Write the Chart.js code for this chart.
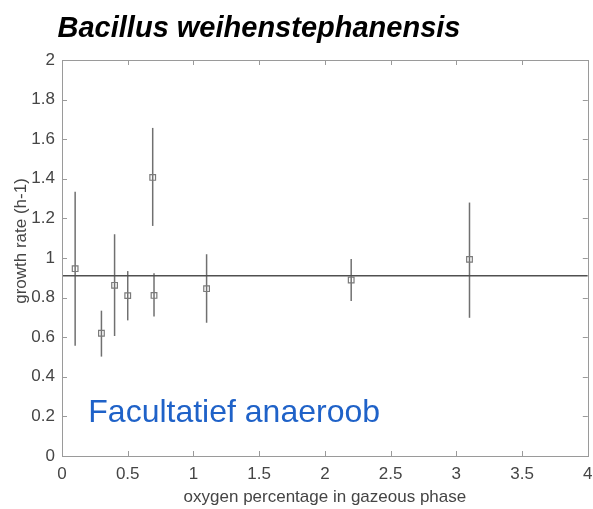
<!DOCTYPE html>
<html>
<head>
<meta charset="utf-8">
<script src="https://cdn.jsdelivr.net/npm/chart.js@4"></script>
<style>
  html, body { margin: 0; padding: 0; background: #fff; }
  #growthChart { display: block; }
</style>
</head>
<body>
<canvas id="growthChart" width="593" height="509"></canvas>
<script>
const oxygen = [0.1, 0.3, 0.4, 0.5, 0.69, 0.7, 1.1, 2.2, 3.1];
const growth = [0.946, 0.62, 0.862, 0.81, 1.407, 0.811, 0.845, 0.889, 0.993];
const errLow = [0.557, 0.502, 0.606, 0.685, 1.162, 0.704, 0.673, 0.783, 0.698];
const errHigh = [1.335, 0.734, 1.12, 0.934, 1.657, 0.923, 1.019, 0.995, 1.28];
const fitRate = 0.91;
const xRange = [0, 4];
const yRange = [0, 2];

const titleText = 'Bacillus weihenstephanensis';
const noteText = 'Facultatief anaeroob';
const xTitle = 'oxygen percentage in gazeous phase';
const yTitle = 'growth rate (h-1)';

Chart.defaults.font.family = '"Liberation Sans", Arial, sans-serif';

const axisColor = '#9a9a9a';
const textColor = '#454545';

// box, inward ticks, error bars and the text bits (matlab look)
const figurePlugin = {
    id: 'figure',
    beforeDatasetsDraw(chart) {
        const ctx = chart.ctx;
        const xs = chart.scales.x;
        const ys = chart.scales.y;
        ctx.save();
        ctx.strokeStyle = '#707070';
        ctx.lineWidth = 1.5;
        for (let i = 0; i < oxygen.length; i++) {
            const px = xs.getPixelForValue(oxygen[i]);
            ctx.beginPath();
            ctx.moveTo(px, ys.getPixelForValue(errLow[i]));
            ctx.lineTo(px, ys.getPixelForValue(errHigh[i]));
            ctx.stroke();
        }
        ctx.restore();
    },
    afterDraw(chart) {
        const ctx = chart.ctx;
        const a = chart.chartArea;
        const xs = chart.scales.x;
        const ys = chart.scales.y;
        ctx.save();
        ctx.strokeStyle = axisColor;
        ctx.lineWidth = 1;
        ctx.strokeRect(Math.round(a.left) + 0.5, Math.round(a.top) + 0.5,
            Math.round(a.right - a.left), Math.round(a.bottom - a.top));
        const tl = 5;
        ctx.beginPath();
        xs.ticks.forEach(t => {
            const px = Math.round(xs.getPixelForValue(t.value)) + 0.5;
            ctx.moveTo(px, a.bottom); ctx.lineTo(px, a.bottom - tl);
            ctx.moveTo(px, a.top); ctx.lineTo(px, a.top + tl);
        });
        ys.ticks.forEach(t => {
            const py = Math.round(ys.getPixelForValue(t.value)) + 0.5;
            ctx.moveTo(a.left, py); ctx.lineTo(a.left + tl, py);
            ctx.moveTo(a.right, py); ctx.lineTo(a.right - tl, py);
        });
        ctx.stroke();

        // title
        ctx.fillStyle = '#000';
        ctx.font = 'italic bold 29px "Liberation Sans", Arial, sans-serif';
        ctx.textAlign = 'center';
        ctx.textBaseline = 'alphabetic';
        ctx.fillText(titleText, 259, 37);

        // axis titles
        ctx.fillStyle = textColor;
        ctx.font = '17px "Liberation Sans", Arial, sans-serif';
        ctx.textBaseline = 'middle';
        ctx.fillText(xTitle, (a.left + a.right) / 2, 497);
        ctx.save();
        ctx.translate(21, 241);
        ctx.rotate(-Math.PI / 2);
        ctx.fillText(yTitle, 0, 0);
        ctx.restore();

        // annotation
        ctx.fillStyle = '#1f62c8';
        ctx.font = '32px "Liberation Sans", Arial, sans-serif';
        ctx.textAlign = 'left';
        ctx.textBaseline = 'alphabetic';
        ctx.fillText(noteText, xs.getPixelForValue(0.2), ys.getPixelForValue(0.17));
        ctx.restore();
    }
};

const fmt = v => String(parseFloat(Number(v).toFixed(1)));

const ctx = document.getElementById('growthChart').getContext('2d');
const growthChart = new Chart(ctx, {
    data: {
        datasets: [{
            type: 'line',
            data: [{ x: xRange[0], y: fitRate }, { x: xRange[1], y: fitRate }],
            borderColor: '#505050',
            borderWidth: 1.5,
            pointRadius: 0,
            order: 2
        }, {
            type: 'scatter',
            data: oxygen.map((x, i) => ({ x: x, y: growth[i] })),
            pointStyle: 'rect',
            pointRadius: 4,
            borderColor: '#7a7a7a',
            borderWidth: 1.2,
            backgroundColor: 'rgba(255,255,255,0)',
            order: 1
        }]
    },
    options: {
        responsive: false,
        animation: false,
        layout: { padding: { top: 60, right: 3, left: 0, bottom: 0 } },
        plugins: {
            legend: { display: false },
            tooltip: { enabled: false }
        },
        scales: {
            x: {
                type: 'linear',
                min: xRange[0],
                max: xRange[1],
                grid: { display: false, drawTicks: false },
                border: { display: false },
                ticks: {
                    stepSize: 0.5,
                    padding: 8,
                    color: textColor,
                    font: { size: 17 },
                    maxRotation: 0,
                    callback: fmt
                },
                afterFit(scale) {
                    scale.height = 53;
                    scale.paddingLeft = 0;
                    scale.paddingRight = 0;
                }
            },
            y: {
                type: 'linear',
                min: yRange[0],
                max: yRange[1],
                grid: { display: false, drawTicks: false },
                border: { display: false },
                ticks: {
                    stepSize: 0.2,
                    padding: 7,
                    color: textColor,
                    font: { size: 17 },
                    callback: fmt
                },
                afterFit(scale) {
                    scale.width = 62;
                    scale.paddingTop = 0;
                    scale.paddingBottom = 0;
                }
            }
        }
    },
    plugins: [figurePlugin]
});
</script>
</body>
</html>
